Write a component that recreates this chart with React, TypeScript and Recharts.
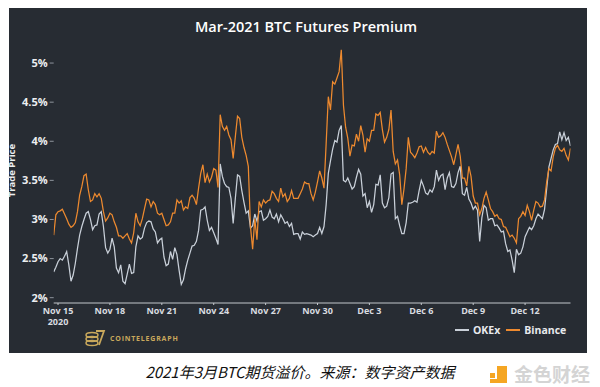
import React from 'react';
import { LineChart, Line, XAxis, YAxis } from 'recharts';

// Premium (%) sampled every 3 hours, starting Nov 14 18:00 (2020)
const okex = [
  2.33, 2.39, 2.46, 2.50, 2.48, 2.53, 2.59, 2.42, 2.21, 2.29, 2.44, 2.63, 2.80, 2.91, 3.00, 3.08, 3.10, 3.00, 2.87, 2.92,
  2.93, 3.07, 3.10, 2.91, 2.64, 2.57, 2.62, 2.76, 2.65, 2.38, 2.32, 2.42, 2.21, 2.18, 2.30, 2.43, 2.31, 2.32, 2.65, 2.79,
  2.75, 2.77, 2.89, 2.96, 2.98, 2.97, 2.88, 2.84, 2.70, 2.74, 2.76, 2.52, 2.41, 2.43, 2.59, 2.49, 2.64, 2.55, 2.35,
  2.17, 2.23, 2.37, 2.48, 2.57, 2.66, 2.67, 2.72, 2.86, 3.12, 3.13, 3.16, 2.99, 2.86, 2.90, 2.83, 2.76, 2.68, 3.71, 3.55,
  3.46, 3.42, 3.41, 3.27, 2.95, 3.27, 3.57, 3.55, 3.37, 3.22, 3.08, 3.11, 2.89, 2.92, 3.07, 2.98, 3.10, 3.11, 2.99, 3.01,
  3.04, 3.12, 3.03, 3.01, 3.07, 2.97, 3.06, 3.01, 2.95, 2.97, 2.91, 2.95, 2.81, 2.82, 2.82, 2.75, 2.84, 2.81, 2.82,
  2.81, 2.80, 2.78, 2.80, 2.82, 2.90, 2.82, 2.91, 3.19, 3.59, 3.75, 3.90, 4.01, 3.99, 4.14, 4.20, 3.50, 3.48, 3.53, 3.46,
  3.39, 3.42, 3.54, 3.64, 3.58, 3.30, 3.33, 3.15, 3.23, 3.09, 3.19, 3.45, 3.44, 3.57, 3.21, 3.15, 3.17, 3.28, 3.58, 3.60,
  3.01, 3.04, 2.92, 2.82, 2.82, 2.96, 3.21, 3.21, 3.22, 3.24, 3.22, 3.37, 3.50, 3.43, 3.34, 3.32, 3.38, 3.35, 3.42,
  3.63, 3.50, 3.56, 3.58, 3.38, 3.53, 3.60, 3.42, 3.41, 3.46, 3.60, 3.68, 3.33, 3.31, 3.41, 3.26, 3.21, 3.13, 3.17, 3.12,
  2.72, 3.02, 3.18, 3.15, 2.99, 3.01, 3.01, 2.92, 2.93, 2.89, 2.84, 2.85, 2.69, 2.59, 2.61, 2.48, 2.32, 2.62, 2.55, 2.57,
  2.65, 2.78, 2.84, 2.90, 2.87, 2.92, 3.01, 3.07, 3.04, 3.01, 3.13, 3.40, 3.67, 3.78, 3.89, 3.96, 3.97, 4.12, 4.02, 4.11,
  4.01, 4.05, 3.94,
];
const binance = [
  2.80, 3.06, 3.10, 3.11, 3.13, 3.07, 3.01, 2.94, 2.90, 2.92, 2.96, 3.10, 3.31, 3.42, 3.56, 3.58, 3.38, 3.23, 3.25, 3.33,
  3.29, 3.33, 3.27, 3.10, 2.98, 3.02, 3.08, 3.06, 2.97, 2.90, 2.79, 2.79, 2.76, 2.79, 2.82, 2.75, 2.70, 2.83, 3.08, 2.97,
  2.92, 3.01, 3.14, 3.26, 3.25, 3.16, 3.23, 3.19, 3.08, 3.06, 3.08, 3.00, 2.92, 2.93, 2.97, 3.08, 3.08, 3.25, 3.21,
  3.24, 3.12, 3.16, 3.14, 3.28, 3.31, 3.27, 3.19, 3.40, 3.59, 3.70, 3.47, 3.58, 3.48, 3.54, 3.65, 3.63, 3.41, 4.34, 4.19,
  4.14, 4.19, 4.08, 4.02, 3.78, 4.06, 4.32, 4.29, 4.05, 3.92, 3.82, 3.68, 2.91, 2.62, 3.01, 2.74, 3.23, 3.16, 3.25, 3.21,
  3.24, 3.25, 3.36, 3.33, 3.27, 3.23, 3.40, 3.29, 3.33, 3.23, 3.27, 3.37, 3.27, 3.27, 3.27, 3.33, 3.39, 3.48, 3.46,
  3.46, 3.33, 3.25, 3.35, 3.48, 3.62, 3.53, 3.40, 3.97, 4.57, 4.40, 4.76, 4.73, 4.81, 4.89, 5.17, 4.46, 4.18, 4.04, 3.81,
  3.95, 3.94, 4.09, 4.00, 4.20, 4.08, 3.86, 4.03, 4.00, 4.14, 4.14, 4.35, 4.33, 4.37, 4.15, 3.99, 4.05, 4.15, 4.40, 3.87,
  3.71, 3.76, 3.57, 3.19, 3.39, 3.65, 4.05, 3.86, 3.83, 3.79, 3.85, 3.93, 3.94, 3.86, 3.92, 3.86, 3.83, 3.87, 3.85,
  4.13, 4.05, 4.07, 4.11, 4.05, 3.96, 3.88, 3.80, 3.70, 3.83, 3.96, 3.81, 3.53, 3.53, 3.43, 3.68, 3.55, 3.30, 3.21, 3.21,
  3.06, 3.14, 3.27, 3.35, 3.25, 3.14, 3.10, 3.04, 3.06, 3.01, 3.00, 2.91, 2.90, 2.84, 2.78, 2.80, 2.76, 2.70, 3.01, 3.04,
  3.10, 3.05, 3.18, 3.10, 2.99, 3.12, 3.23, 3.21, 3.16, 3.17, 3.25, 3.48, 3.65, 3.62, 3.80, 3.91, 3.95, 3.89, 3.87, 3.91,
  3.82, 3.76, 3.91,
];
const FIRST_DAY = -0.25; // days relative to Nov 15 00:00
const STEP_DAY = 0.125; // 3-hour samples
const tickDays = [0, 3, 6, 9, 12, 15, 18, 21, 24, 27];
const tickLabels = ['Nov 15', 'Nov 18', 'Nov 21', 'Nov 24', 'Nov 27', 'Nov 30', 'Dec 3', 'Dec 6', 'Dec 9', 'Dec 12'];
const yearLabel = '2020';
const yTicks = [2, 2.5, 3, 3.5, 4, 4.5, 5];
const seriesNames = ['OKEx', 'Binance'];

const data = okex.map((v, i) => ({ t: FIRST_DAY + i * STEP_DAY, okex: v, binance: binance[i] }));

const OKEX_COLOR = '#c9d0d9';
const BINANCE_COLOR = '#ee8a2f';
const FONT = '"Open Sans", "DejaVu Sans", sans-serif';

const XTick = (props: any) => {
  const { x, y, payload } = props;
  const idx = tickDays.indexOf(payload.value);
  return (
    <text x={x} y={y} textAnchor="middle" fill="#d9dce0" fontSize={9} fontWeight={700} fontFamily={FONT}>
      <tspan x={x} dy={8}>{tickLabels[idx]}</tspan>
      {idx === 0 && <tspan x={x} dy={10.5}>{yearLabel}</tspan>}
    </text>
  );
};

export default function App() {
  return (
    <div style={{ position: 'absolute', left: 0, top: 0, width: 600, height: 387, background: '#ffffff', overflow: 'hidden' }}>
      <div style={{ position: 'absolute', left: 9, top: 8, width: 578, height: 345, background: '#272c33' }} />
      <div style={{ position: 'absolute', left: 6, top: 17, width: 600, textAlign: 'center', color: '#ffffff', fontFamily: FONT, fontSize: 14.5, fontWeight: 600 }}>
        Mar-2021 BTC Futures Premium
      </div>
      <div style={{ position: 'absolute', left: 0, top: 0 }}>
        <LineChart width={600} height={387} data={data} margin={{ top: 39.6, right: 29.5, bottom: 54, left: 0 }}>
          <XAxis
            type="number"
            dataKey="t"
            domain={[-0.25, 29.625]}
            ticks={tickDays}
            allowDataOverflow
            stroke="#c3c7cc"
            tickSize={2}
            tickMargin={1}
            height={30}
            tick={<XTick />}
          />
          <YAxis
            domain={[1.932, 5.3]}
            ticks={yTicks}
            allowDataOverflow
            width={53.7}
            axisLine={false}
            tickLine={{ stroke: '#8d939b' }}
            tickSize={4}
            tickMargin={2}
            tick={{ fill: '#eceef0', fontSize: 11, fontWeight: 700, fontFamily: FONT }}
            tickFormatter={(v: number) => `${v}%`}
            label={{ value: 'Trade Price', angle: -90, position: 'insideLeft', offset: 12, fill: '#eceef0', fontSize: 9.5, fontWeight: 700, fontFamily: FONT, dy: 26 }}
          />
          <Line type="linear" dataKey="okex" name={seriesNames[0]} stroke={OKEX_COLOR} strokeWidth={1.25} dot={false} isAnimationActive={false} />
          <Line type="linear" dataKey="binance" name={seriesNames[1]} stroke={BINANCE_COLOR} strokeWidth={1.25} dot={false} isAnimationActive={false} />
        </LineChart>
      </div>
      <div style={{ position: 'absolute', left: 455, top: 323, display: 'flex', alignItems: 'center', fontFamily: FONT, fontSize: 10.5, fontWeight: 700, color: '#e8eaed' }}>
        <span style={{ display: 'inline-block', width: 14, height: 1.5, background: OKEX_COLOR, marginRight: 4 }} />
        <span style={{ marginRight: 6 }}>{seriesNames[0]}</span>
        <span style={{ display: 'inline-block', width: 14, height: 1.5, background: BINANCE_COLOR, marginRight: 4 }} />
        <span>{seriesNames[1]}</span>
      </div>
      <div style={{ position: 'absolute', left: 84, top: 327, display: 'flex', alignItems: 'center' }}>
        <svg width={22} height={22}>
          <ellipse cx={8} cy={8} rx={6} ry={2.5} fill="none" stroke="#c9a85c" strokeWidth={1.5} />
          <ellipse cx={8} cy={12} rx={6} ry={2.5} fill="none" stroke="#c9a85c" strokeWidth={1.5} />
          <ellipse cx={8} cy={16} rx={6} ry={2.5} fill="none" stroke="#c9a85c" strokeWidth={1.5} />
          <path d="M12 4 L20 4 L15 18" fill="none" stroke="#c9a85c" strokeWidth={1.8} />
        </svg>
        <span style={{ marginLeft: 4, color: '#c9a85c', fontFamily: FONT, fontSize: 7, fontWeight: 700, letterSpacing: 0.8 }}>COINTELEGRAPH</span>
      </div>
      <div style={{ position: 'absolute', left: 0, top: 361, width: 600, textAlign: 'center' }}>
        <span style={{ display: 'inline-block', fontFamily: '"Noto Sans CJK SC", sans-serif', fontStyle: 'italic', fontSize: 15, color: '#111' }}>
          2021年3月BTC期货溢价。来源：数字资产数据
        </span>
      </div>
      <div style={{ position: 'absolute', left: 488, top: 360, display: 'flex', alignItems: 'center' }}>
        <svg width={22} height={22}>
          <rect x={2} y={10} width={5} height={5} fill="#f5a623" />
          <rect x={9} y={3} width={10} height={17} fill="#f5a623" />
          <rect x={2} y={16} width={12} height={4} fill="#f5a623" />
        </svg>
        <span style={{ marginLeft: 4, fontFamily: '"Noto Sans CJK SC", sans-serif', fontSize: 19, fontWeight: 700, color: '#d4d4d4' }}>金色财经</span>
      </div>
    </div>
  );
}
